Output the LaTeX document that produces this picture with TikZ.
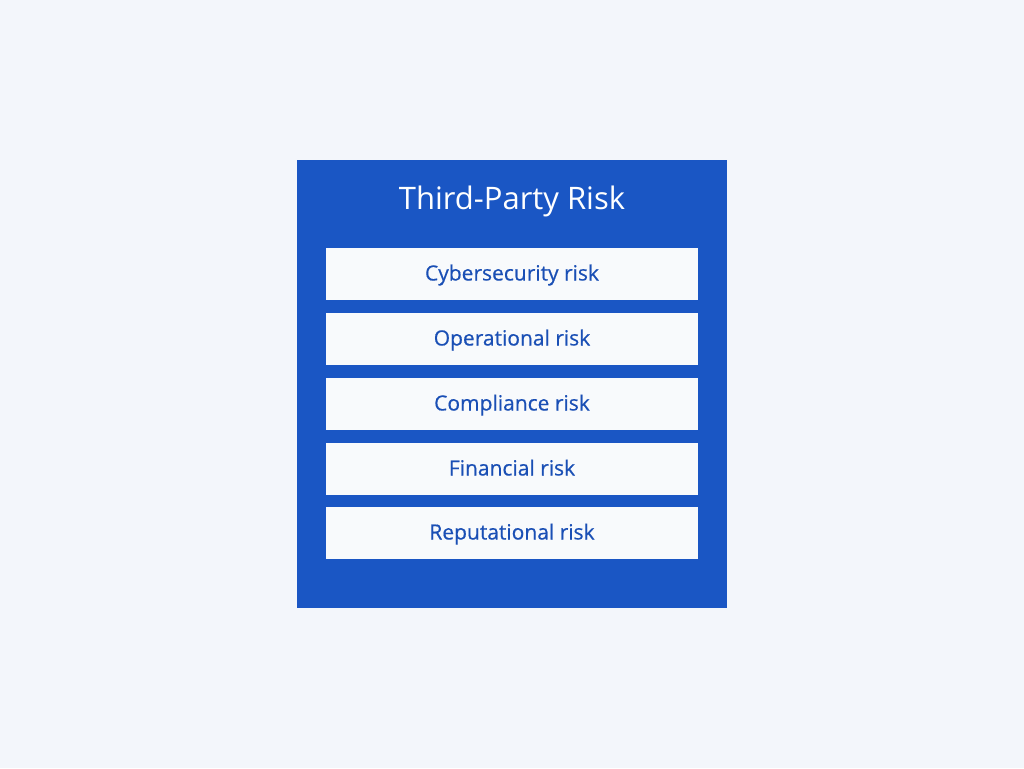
\documentclass[tikz,border=0pt]{standalone}
\usepackage{fontspec}
\setmainfont{Open Sans}
\newfontfamily\itemfont[FakeBold=0.5]{Open Sans}
\definecolor{pagebg}{HTML}{F3F6FB}
\definecolor{riskblue}{HTML}{1A56C4}
\definecolor{itembg}{HTML}{F8FAFC}
\definecolor{itemtext}{HTML}{1A4FB5}
\tikzset{
  riskitem/.style={fill=itembg, minimum width=372pt, minimum height=52pt,
    inner sep=0pt, text height=17pt, text depth=4pt, text=itemtext,
    font=\itemfont\fontsize{21}{24}\selectfont},
  risktitle/.style={text=white, anchor=base, font=\fontsize{31}{36}\selectfont}
}
\begin{document}
\begin{tikzpicture}[x=1pt, y=-1pt]
    \fill[pagebg] (0, 0) rectangle (1024, 768);
    \useasboundingbox (0, 0) rectangle (1024, 768);
    \node[fill=riskblue, minimum width=430pt, minimum height=448pt, inner sep=0pt] (frame) at (512, 384) {};
    \node[risktitle] (title) at (512, 209) {Third-Party Risk};
    \node[riskitem] (cyber) at (512, 274) {Cybersecurity risk};
    \node[riskitem] (oper) at (512, 339) {Operational risk};
    \node[riskitem] (compl) at (512, 404) {Compliance risk};
    \node[riskitem] (fin) at (512, 469) {Financial risk};
    \node[riskitem] (rep) at (512, 533) {Reputational risk};
\end{tikzpicture}
\end{document}
